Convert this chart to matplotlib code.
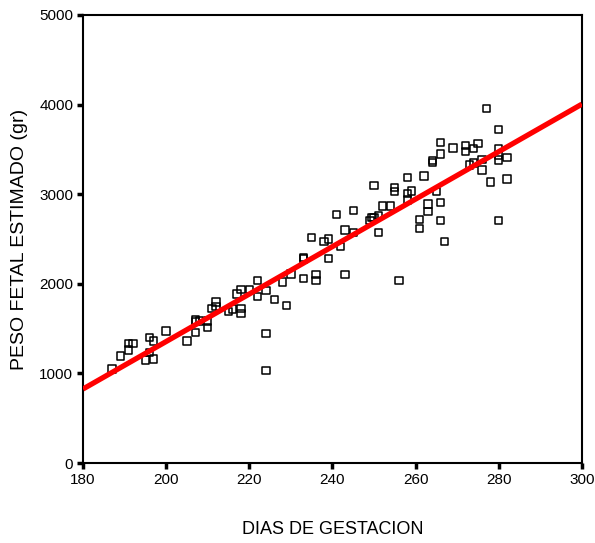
import numpy as np
import matplotlib.pyplot as plt

# ───────────────────────── Data ─────────────────────────
dias = [
    187, 189, 191, 191, 192, 195, 196, 196, 197, 197,
    200, 205, 207, 207, 207, 208, 210, 210, 211, 212,
    212, 215, 216, 217, 218, 220, 218, 218, 222, 222,
    224, 226, 224, 224, 228, 229, 230, 233, 233, 233,
    236, 236, 235, 238, 239, 239, 241, 242, 243, 243,
    245, 245, 249, 249.5, 250, 251, 251, 250, 252, 254,
    255, 255, 258, 258, 258, 259, 261, 261, 262, 263,
    263, 264, 264, 265, 266, 266, 266, 266, 267, 269,
    256, 272, 272, 274, 275, 273, 274, 276, 276, 277,
    278, 280, 280, 280, 280, 282, 282, 280,
]
peso = [
    1050, 1195, 1260, 1335, 1335, 1150, 1400, 1235, 1360, 1160,
    1475, 1360, 1580, 1595, 1460, 1585, 1585, 1510, 1725, 1795,
    1745, 1690, 1720, 1885, 1940, 1940, 1725, 1670, 2040, 1855,
    1925, 1825, 1445, 1035, 2020, 1760, 2110, 2295, 2275, 2060,
    2105, 2040, 2520, 2470, 2500, 2285, 2775, 2415, 2600, 2105,
    2815, 2575, 2710, 2740, 2740, 2760, 2575, 3100, 2870, 2870,
    3075, 3030, 3185, 3010, 2935, 3035, 2720, 2620, 3205, 2890,
    2805, 3375, 3355, 3030, 3580, 3450, 2905, 2705, 2470, 3515,
    2040, 3540, 3480, 3510, 3565, 3325, 3350, 3390, 3270, 3960,
    3135, 3725, 3510, 3435, 3380, 3410, 3170, 2705,
]

# fitted line, end values read at x = 180 and x = 300
linea_x = [180, 300]
linea_y = [826, 4005]

x_ticks = [180, 200, 220, 240, 260, 280, 300]
y_ticks = [0, 1000, 2000, 3000, 4000, 5000]

# ───────────────────────── Plot ─────────────────────────
plt.rcParams['font.family'] = ['Liberation Sans', 'DejaVu Sans']

fig = plt.figure(figsize=(5.95, 5.43), dpi=100)
ax = fig.add_axes([0.1395, 0.1473, 0.8385, 0.8251])

ax.scatter(dias, peso, marker='s', s=28, facecolors='none',
           edgecolors='black', linewidths=1.1, zorder=2)
ax.plot(linea_x, linea_y, color='#ff0000', linewidth=3.8,
        solid_capstyle='butt', zorder=3)

ax.set_xlim(180, 300)
ax.set_ylim(0, 5000)
ax.set_xticks(x_ticks)
ax.set_yticks(y_ticks)
ax.tick_params(direction='out', length=4, width=2.5, labelsize=11,
               colors='black', pad=3)

for spine in ax.spines.values():
    spine.set_linewidth(1.5)
    spine.set_color('black')

ax.set_xlabel('DIAS DE GESTACION', fontsize=13, labelpad=25)
ax.set_ylabel('PESO FETAL ESTIMADO (gr)', fontsize=14, labelpad=8)

fig.savefig('out.png', dpi=100)
